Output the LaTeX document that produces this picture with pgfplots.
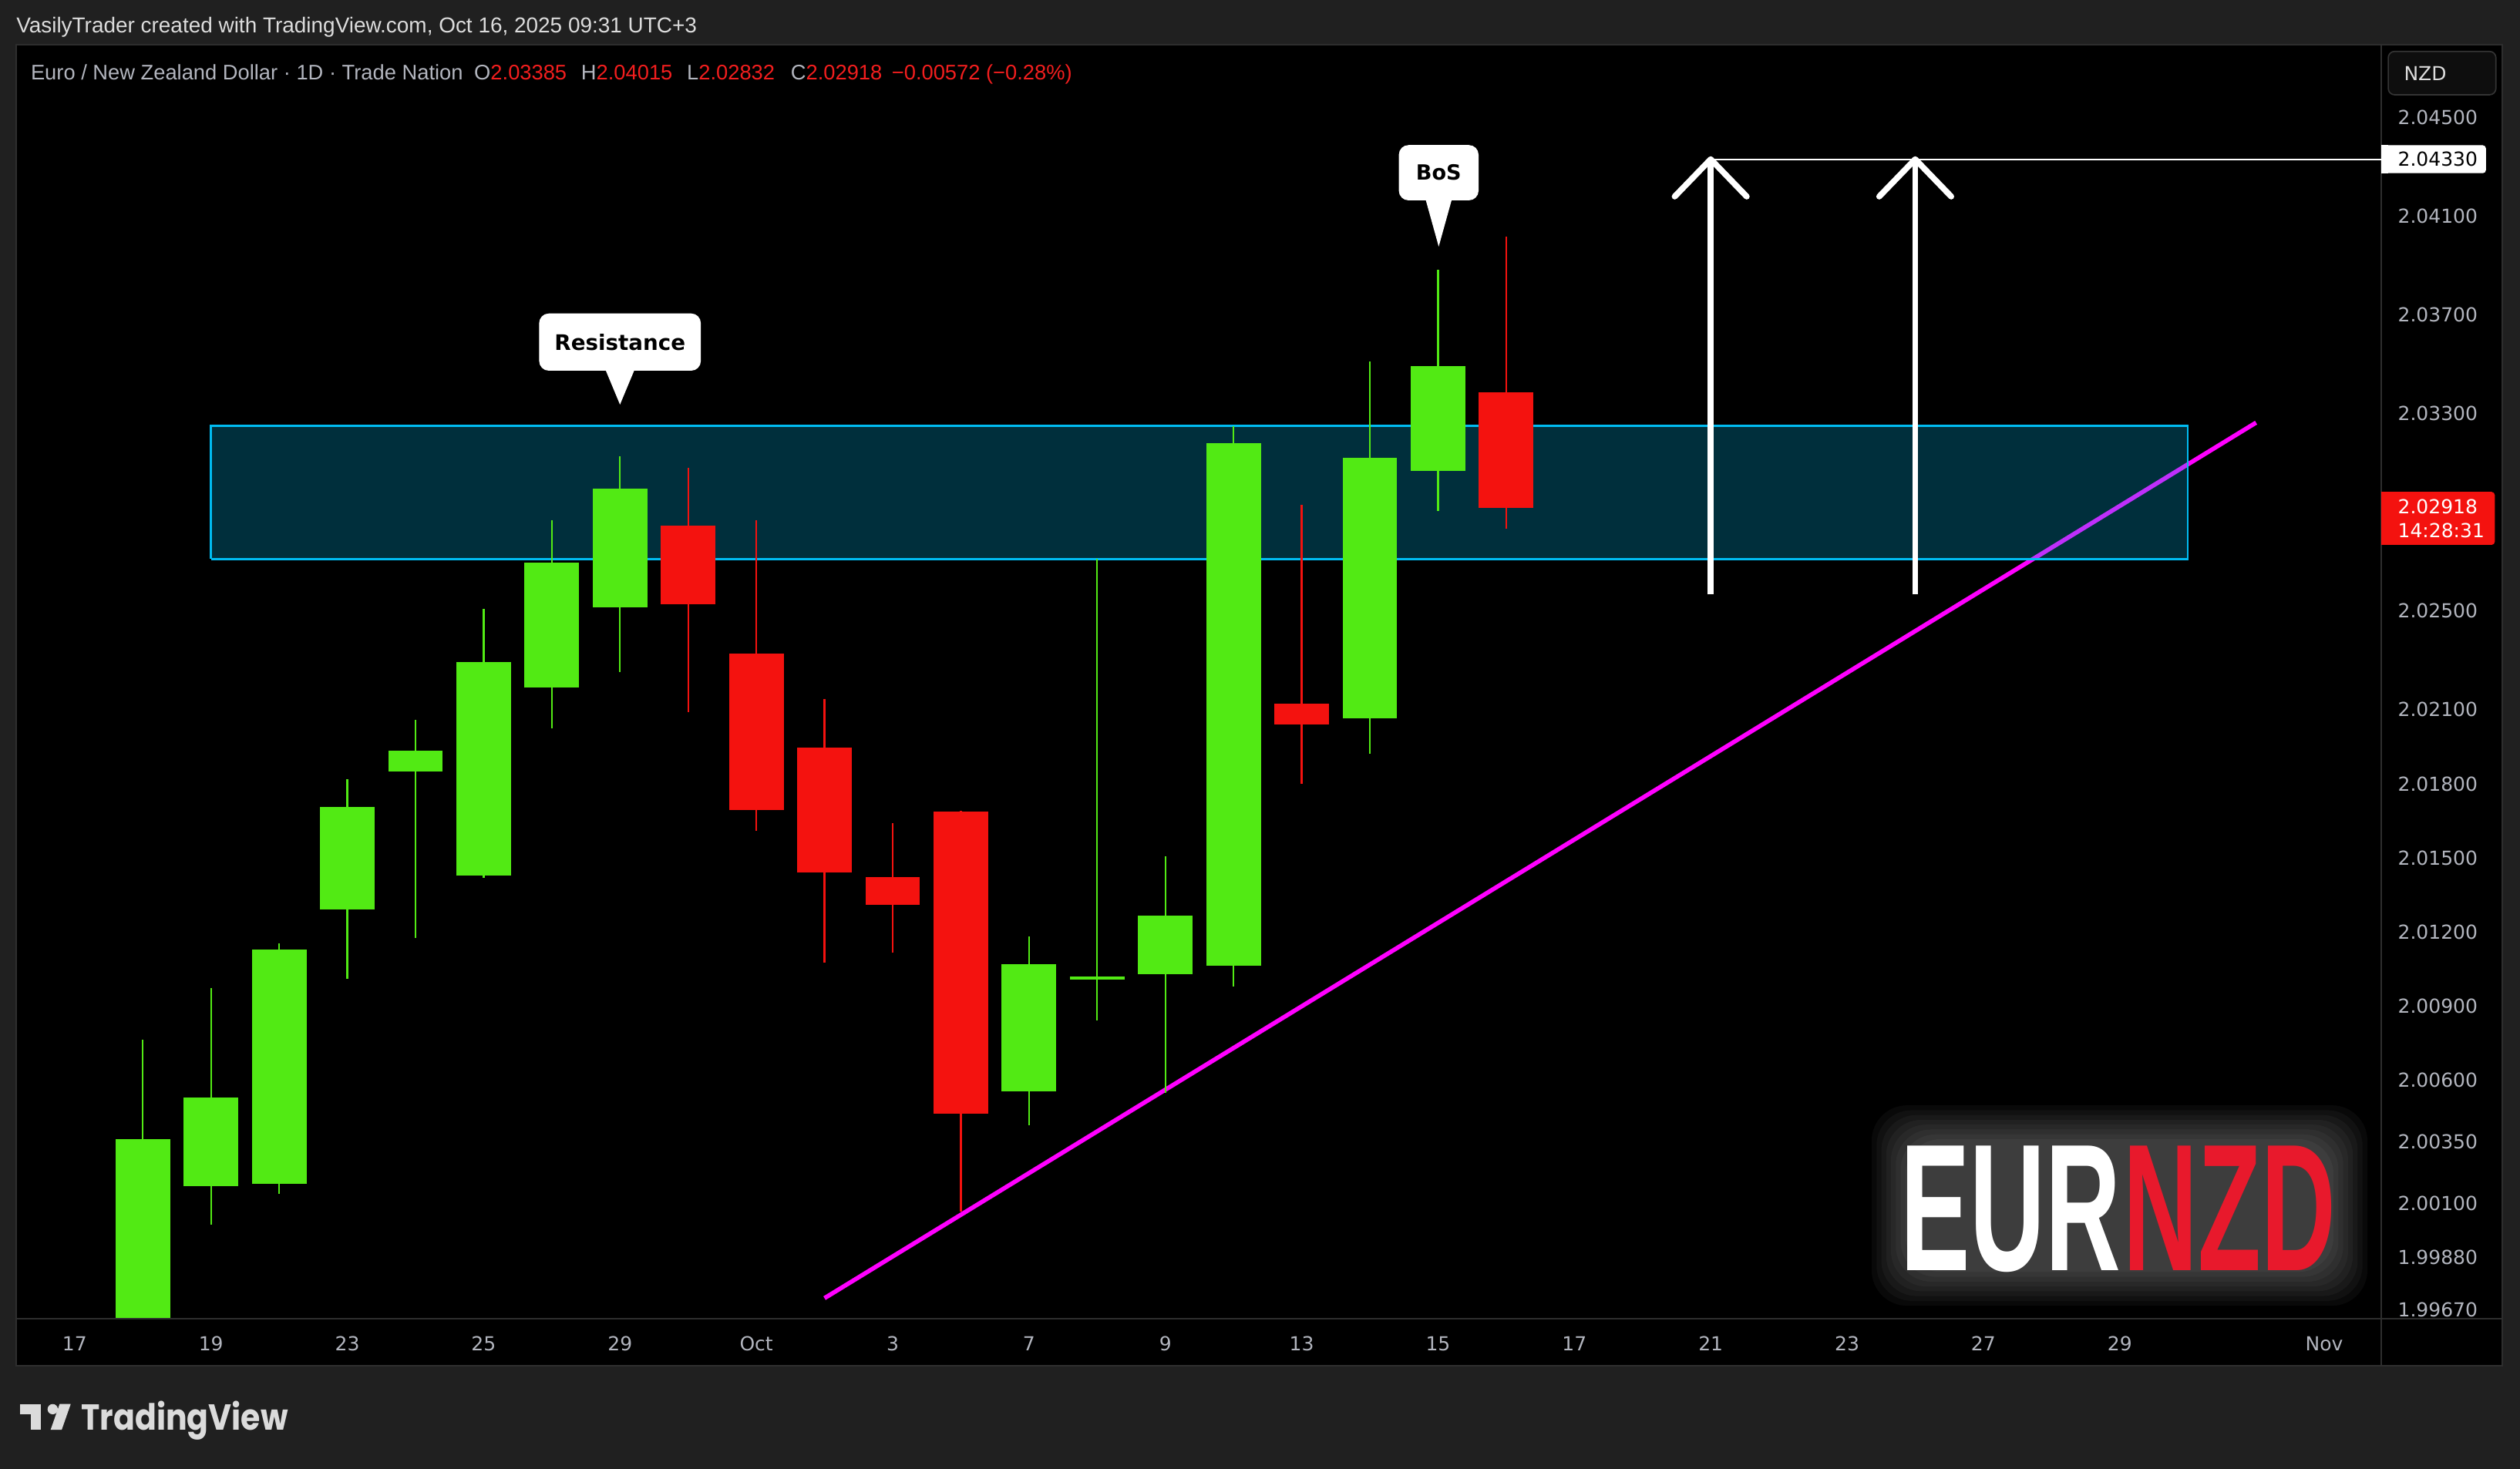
\documentclass[border=0pt]{standalone}
\usepackage{pgfplots}
\pgfplotsset{compat=1.18}
\usepackage{fontspec}
\setmainfont{Liberation Sans}
\newfontfamily\dejavu{DejaVu Sans}
\newfontfamily\poppins{Poppins}
\definecolor{outerbg}{RGB}{32,32,32}
\definecolor{sep}{RGB}{46,46,46}
\definecolor{upc}{RGB}{82,234,20}
\definecolor{dnc}{RGB}{244,18,15}
\definecolor{zonec}{RGB}{0,188,242}
\definecolor{trend}{RGB}{255,0,255}
\definecolor{axtext}{RGB}{178,181,190}
\definecolor{toptext}{RGB}{220,220,220}
\definecolor{hdrred}{RGB}{242,30,30}
\definecolor{logored}{RGB}{232,25,44}
\definecolor{tvgray}{RGB}{219,219,219}
\definecolor{btnfill}{RGB}{14,14,14}
\definecolor{btnline}{RGB}{52,52,52}
\newcommand\tickfont{\dejavu\fontsize{12}{14}\selectfont}
\begin{document}
\begin{tikzpicture}[x=1pt,y=1pt]
% backgrounds
\fill[outerbg] (0,0) rectangle (1568,914);
\fill[black] (10,64) rectangle (1557,886);
\draw[sep, line width=1pt] (10,64) rectangle (1557,886);
\draw[sep, line width=1pt] (1481.8,64) -- (1481.8,886);
\draw[sep, line width=1pt] (10,93.5) -- (1557,93.5);

\begin{axis}[
  at={(10pt,94pt)}, anchor=south west,
  scale only axis, width=1471.8pt, height=792pt,
  xmin=-0.859, xmax=33.84, ymin=1.996373, ymax=2.047929,
  axis line style={draw=none}, major tick length=0pt,
  scaled y ticks=false,
  xtick={0,2,4,6,8,10,12,14,16,18,20,22,24,26,28,30,33},
  xticklabels={17,19,23,25,29,Oct,3,7,9,13,15,17,21,23,27,29,Nov},
  ytick={1.9967,1.9988,2.001,2.0035,2.006,2.009,2.012,2.015,2.018,2.021,2.025,2.033,2.037,2.041,2.045},
  yticklabels={1.99670,1.99880,2.00100,2.00350,2.00600,2.00900,2.01200,2.01500,2.01800,2.02100,2.02500,2.03300,2.03700,2.04100,2.04500},
  yticklabel pos=right,
  xticklabel style={font=\tickfont, text=axtext, anchor=base, inner sep=0pt, yshift=-20.5pt},
  yticklabel style={font=\tickfont, text=axtext, anchor=west, inner sep=0pt, xshift=10pt},
]
% trend line
\addplot[trend, line width=2.7pt] coordinates {(11,1.99716) (32,2.03263)};
% resistance zone
\addplot[draw=zonec, line width=1.2pt, fill=zonec, fill opacity=0.25]
  coordinates {(2,2.0271) (31,2.0271) (31,2.0325) (2,2.0325) (2,2.0271)};
% wicks
\addplot[upc, line width=1.1pt, unbounded coords=jump] coordinates {
 (1,1.99500) (1,2.00763) (1,nan)
 (2,2.00015) (2,2.00972) (2,nan)
 (3,2.00139) (3,2.01154) (3,nan)
 (4,2.01011) (4,2.01818) (4,nan)
 (5,2.01174) (5,2.02059) (5,nan)
 (6,2.01420) (6,2.02508) (6,nan)
 (7,2.02026) (7,2.02866) (7,nan)
 (8,2.02254) (8,2.03126) (8,nan)
 (14,2.00418) (14,2.01180) (14,nan)
 (15,2.00842) (15,2.02710) (15,nan)
 (16,2.00549) (16,2.01506) (16,nan)
 (17,2.00978) (17,2.03250) (17,nan)
 (19,2.01922) (19,2.03511) (19,nan)
 (20,2.02905) (20,2.03882)};
\addplot[dnc, line width=1.1pt, unbounded coords=jump] coordinates {
 (9,2.02091) (9,2.03081) (9,nan)
 (10,2.01610) (10,2.02866) (10,nan)
 (11,2.01076) (11,2.02143) (11,nan)
 (12,2.01115) (12,2.01642) (12,nan)
 (13,2.00067) (13,2.01690) (13,nan)
 (18,2.01799) (18,2.02931) (18,nan)
 (21,2.02832) (21,2.04015)};
% bodies (open to close)
\addplot[upc, line width=34pt, unbounded coords=jump] coordinates {
 (1,1.99550) (1,2.00360) (1,nan)
 (2,2.00171) (2,2.00529) (2,nan)
 (3,2.00178) (3,2.01128) (3,nan)
 (4,2.01291) (4,2.01707) (4,nan)
 (5,2.01851) (5,2.01935) (5,nan)
 (6,2.01427) (6,2.02293) (6,nan)
 (7,2.02189) (7,2.02697) (7,nan)
 (8,2.02515) (8,2.02996) (8,nan)
 (14,2.00555) (14,2.01069) (14,nan)
 (15,2.01008) (15,2.01020) (15,nan)
 (16,2.01030) (16,2.01265) (16,nan)
 (17,2.01063) (17,2.03179) (17,nan)
 (19,2.02065) (19,2.03120) (19,nan)
 (20,2.03068) (20,2.03491)};
\addplot[dnc, line width=34pt, unbounded coords=jump] coordinates {
 (9,2.02847) (9,2.02528) (9,nan)
 (10,2.02326) (10,2.01694) (10,nan)
 (11,2.01948) (11,2.01440) (11,nan)
 (12,2.01421) (12,2.01310) (12,nan)
 (13,2.01688) (13,2.00464) (13,nan)
 (18,2.02124) (18,2.02039) (18,nan)
 (21,2.03385) (21,2.02918)};
% target arrows
\addplot[white, line width=0.9pt] coordinates {(24,2.0433) (33.84,2.0433)};
\addplot[white, line width=3.7pt] coordinates {(24,2.02567) (24,2.0433)};
\addplot[white, line width=3.7pt] coordinates {(27,2.02567) (27,2.0433)};
\addplot[white, line width=3.7pt, line cap=round, line join=round] coordinates {(23.472,2.04179) (24,2.0433) (24.528,2.04179)};
\addplot[white, line width=3.7pt, line cap=round, line join=round] coordinates {(26.472,2.04179) (27,2.0433) (27.528,2.04179)};
% callout anchors
\coordinate (bos) at (axis cs:20.01,2.03976);
\coordinate (res) at (axis cs:8.0,2.033361);
\coordinate (L1) at (axis cs:33.84,2.0433);
\coordinate (L2) at (axis cs:33.84,2.02918);
\end{axis}

% callouts
\fill[white] ([shift={(-8,28.8)}]bos) -- (bos) -- ([shift={(8,28.8)}]bos) -- cycle;
\fill[white, rounded corners=6pt] ([shift={(-24.8,28.8)}]bos) rectangle ([shift={(24.8,63.2)}]bos);
\node[font=\dejavu\bfseries\fontsize{13}{14}\selectfont, text=black, inner sep=0pt] at ([shift={(0,46)}]bos) {BoS};
\fill[white] ([shift={(-8.8,21.1)}]res) -- (res) -- ([shift={(8.8,21.1)}]res) -- cycle;
\fill[white, rounded corners=6pt] ([shift={(-50.3,21.1)}]res) rectangle ([shift={(50.3,56.7)}]res);
\node[font=\dejavu\bfseries\fontsize{13.3}{14}\selectfont, text=black, inner sep=0pt] at ([shift={(0,38.9)}]res) {Resistance};

% price labels
\fill[white, rounded corners=2pt] ([shift={(0,-8.7)}]L1) rectangle ([shift={(65,8.7)}]L1);
\fill[white] ([shift={(0,-8.7)}]L1) rectangle ([shift={(4,8.7)}]L1);
\node[anchor=west, inner sep=0pt, font=\tickfont, text=black] at ([shift={(10,0)}]L1) {2.04330};
\fill[dnc, rounded corners=2pt] ([shift={(0,-23.1)}]L2) rectangle ([shift={(70.5,9.9)}]L2);
\fill[dnc] ([shift={(0,-23.1)}]L2) rectangle ([shift={(4,9.9)}]L2);
\node[anchor=west, inner sep=0pt, font=\tickfont, text=white] at ([shift={(10,0.9)}]L2) {2.02918};
\node[anchor=west, inner sep=0pt, font=\tickfont, text=white] at ([shift={(10,-14.1)}]L2) {14:28:31};

% NZD button
\draw[btnline, fill=btnfill, rounded corners=4pt, line width=0.8pt] (1486,855) rectangle (1553,882);
\node[anchor=west, inner sep=0pt, font=\tickfont, text=toptext] at (1495.6,868.3) {NZD};

% header texts
\node[anchor=base west, inner sep=0pt, font=\fontsize{13.4}{15}\selectfont, text=toptext] at (10,893.5)
  {VasilyTrader created with TradingView.com, Oct 16, 2025 09:31 UTC+3};
\node[anchor=base west, inner sep=0pt, font=\fontsize{13.1}{15}\selectfont, text=axtext] at (19,864.5)
  {Euro / New Zealand Dollar · 1D · Trade Nation\hspace{7pt}O\textcolor{hdrred}{2.03385}\hspace{9pt}H\textcolor{hdrred}{2.04015}\hspace{9pt}L\textcolor{hdrred}{2.02832}\hspace{10pt}C\textcolor{hdrred}{2.02918}\hspace{6pt}\textcolor{hdrred}{−0.00572 (−0.28\%)}};

% EURNZD logo with soft glow
\foreach \e in {22,19,16,13,10,7,4,1} {
  \fill[white, opacity=0.035, rounded corners=22pt] (1186.6-\e,123.4-\e) rectangle (1451+\e,204.1+\e);
}
\node[anchor=base west, inner sep=0pt, text=white, font=\bfseries\fontsize{112.7}{120}\selectfont, xscale=0.576] at (1182.5,123.4) {EUR};
\node[anchor=base east, inner sep=0pt, text=logored, font=\bfseries\fontsize{112.7}{120}\selectfont, xscale=0.57] at (1453.5,123.4) {NZD};

% TradingView logo
\fill[tvgray] (12.5,33.8) rectangle (25.6,40.2);
\fill[tvgray] (19.2,24.2) rectangle (25.6,40.2);
\fill[tvgray] (32.8,37) circle (3.2);
\fill[tvgray] (37.1,40.2) -- (44.0,40.2) -- (38.4,24.2) -- (31.5,24.2) -- cycle;
\node[anchor=base west, inner sep=0pt, text=tvgray, font=\poppins\bfseries\fontsize{22.5}{24}\selectfont, xscale=0.875] at (50.5,24.2) {TradingView};
\end{tikzpicture}
\end{document}
